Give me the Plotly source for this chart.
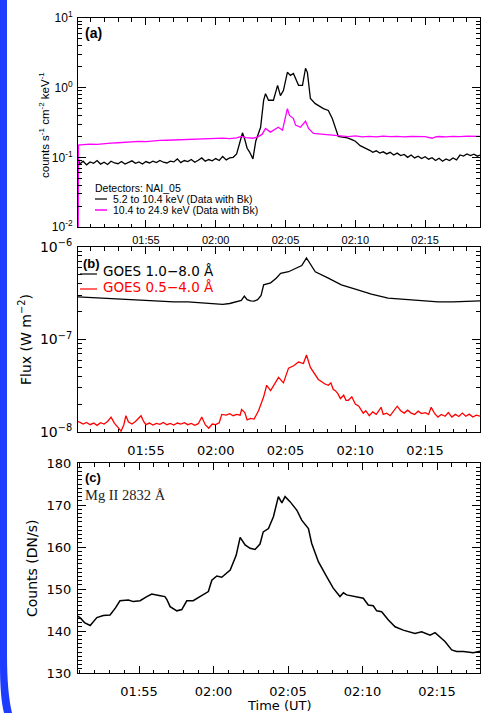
import plotly.graph_objects as go

W, H = 481, 713
DATE = "2000-01-01 "

# ---------------- Panel (a): counts, NAI_05 ----------------
a_lo_time = ["01:50:08", "01:50:15", "01:50:30", "01:50:45", "01:51:00", "01:51:15", "01:51:30", "01:51:45",
             "01:52:00", "01:52:15", "01:52:30", "01:52:45", "01:53:00", "01:53:15", "01:53:30", "01:53:45",
             "01:54:00", "01:54:15", "01:54:30", "01:54:45", "01:55:00", "01:55:15", "01:55:30", "01:55:45",
             "01:56:00", "01:56:15", "01:56:30", "01:56:45", "01:57:00", "01:57:15", "01:57:30", "01:57:45",
             "01:58:00", "01:58:15", "01:58:30", "01:58:45", "01:59:00", "01:59:15", "01:59:30", "01:59:45",
             "02:00:00", "02:00:15", "02:00:30", "02:00:45", "02:01:00", "02:01:15", "02:01:30", "02:01:45",
             "02:01:55", "02:02:05", "02:02:15", "02:02:25", "02:02:40", "02:02:52", "02:03:13", "02:03:26",
             "02:03:34", "02:03:47", "02:04:08", "02:04:26", "02:04:38", "02:04:51", "02:05:08", "02:05:21",
             "02:05:34", "02:05:56", "02:06:13", "02:06:26", "02:06:34", "02:06:47", "02:07:08", "02:07:43",
             "02:08:04", "02:08:21", "02:08:34", "02:08:47", "02:09:05", "02:09:26", "02:09:45", "02:10:00",
             "02:10:21", "02:10:40", "02:11:04", "02:11:15", "02:11:30", "02:11:45", "02:12:00", "02:12:15",
             "02:12:30", "02:12:45", "02:13:00", "02:13:15", "02:13:30", "02:13:45", "02:14:00", "02:14:15",
             "02:14:30", "02:14:45", "02:15:00", "02:15:15", "02:15:30", "02:15:45", "02:16:00", "02:16:15",
             "02:16:30", "02:16:45", "02:17:00", "02:17:15", "02:17:30", "02:17:45", "02:18:00", "02:18:15",
             "02:18:30", "02:18:45", "02:18:56"]
a_lo_vals = [0.100, 0.080, 0.088, 0.078, 0.086, 0.082, 0.090, 0.080,
             0.085, 0.079, 0.088, 0.083, 0.081, 0.087, 0.080, 0.084,
             0.089, 0.082, 0.086, 0.080, 0.087, 0.083, 0.088, 0.084,
             0.090, 0.085, 0.083, 0.088, 0.086, 0.095, 0.084, 0.090,
             0.087, 0.093, 0.085, 0.091, 0.098, 0.088, 0.093, 0.089,
             0.096, 0.090, 0.103, 0.092, 0.098, 0.100, 0.112, 0.170,
             0.225, 0.180, 0.135, 0.120, 0.095, 0.170, 0.270, 0.660,
             0.820, 0.660, 0.660, 1.080, 0.770, 0.910, 1.660, 1.500,
             1.600, 1.080, 1.080, 1.900, 1.660, 0.700, 0.590, 0.500,
             0.470, 0.360, 0.270, 0.200, 0.195, 0.190, 0.180, 0.170,
             0.147, 0.138, 0.125, 0.118, 0.124, 0.115, 0.120, 0.112,
             0.118, 0.108, 0.115, 0.106, 0.110, 0.100, 0.108, 0.098,
             0.104, 0.096, 0.102, 0.094, 0.099, 0.090, 0.097, 0.088,
             0.095, 0.090, 0.098, 0.092, 0.108, 0.104, 0.112, 0.106,
             0.111, 0.104, 0.108]

a_hi_time = ["01:50:08", "01:50:10", "01:50:30", "01:51:00", "01:51:30", "01:52:00", "01:52:30", "01:53:00",
             "01:53:30", "01:54:00", "01:54:30", "01:55:00", "01:55:30", "01:56:00", "01:56:30", "01:57:00",
             "01:57:30", "01:58:00", "01:58:30", "01:59:00", "01:59:30", "02:00:00", "02:00:30", "02:01:00",
             "02:01:30", "02:01:50", "02:02:10", "02:02:40", "02:03:00", "02:03:20", "02:03:34", "02:03:55",
             "02:04:29", "02:04:47", "02:05:08", "02:05:17", "02:05:34", "02:05:43", "02:06:04", "02:06:26",
             "02:06:39", "02:07:00", "02:08:00", "02:09:00", "02:09:30", "02:10:00", "02:10:30", "02:11:00",
             "02:11:30", "02:12:00", "02:12:30", "02:13:00", "02:13:30", "02:14:00", "02:14:30", "02:15:00",
             "02:15:30", "02:15:45", "02:16:00", "02:16:30", "02:17:00", "02:17:30", "02:18:00", "02:18:30",
             "02:18:56"]
a_hi_vals = [0.001, 0.150, 0.152, 0.155, 0.153, 0.158, 0.160, 0.162,
             0.165, 0.166, 0.170, 0.168, 0.173, 0.175, 0.176, 0.178,
             0.180, 0.179, 0.183, 0.185, 0.184, 0.187, 0.189, 0.186,
             0.190, 0.200, 0.192, 0.188, 0.195, 0.215, 0.260, 0.230,
             0.270, 0.245, 0.500, 0.400, 0.360, 0.290, 0.270, 0.330,
             0.260, 0.220, 0.210, 0.200, 0.198, 0.203, 0.197, 0.200,
             0.196, 0.201, 0.198, 0.200, 0.196, 0.199, 0.197, 0.198,
             0.188, 0.197, 0.199, 0.196, 0.200, 0.198, 0.201, 0.199,
             0.200]

# ---------------- Panel (b): GOES ----------------
b_long_time = ["01:50:04", "01:51:00", "01:52:00", "01:53:00", "01:54:00", "01:55:00", "01:56:00", "01:57:00",
               "01:58:00", "01:59:00", "02:00:00", "02:00:30", "02:01:00", "02:01:30", "02:01:50", "02:02:03",
               "02:02:15", "02:02:30", "02:02:45", "02:03:00", "02:03:15", "02:03:26", "02:03:56", "02:04:20",
               "02:04:39", "02:05:13", "02:05:47", "02:06:10", "02:06:30", "02:06:45", "02:07:08", "02:08:04",
               "02:09:00", "02:10:00", "02:11:09", "02:12:21", "02:14:00", "02:15:56", "02:17:00", "02:18:20",
               "02:18:56"]
b_long_vals = [2.90e-7, 2.85e-7, 2.80e-7, 2.72e-7, 2.68e-7, 2.62e-7, 2.60e-7, 2.55e-7,
               2.55e-7, 2.50e-7, 2.42e-7, 2.40e-7, 2.45e-7, 2.55e-7, 2.65e-7, 2.95e-7,
               2.70e-7, 2.62e-7, 2.60e-7, 2.70e-7, 3.00e-7, 3.90e-7, 4.10e-7, 4.60e-7,
               5.20e-7, 5.40e-7, 5.90e-7, 6.30e-7, 7.60e-7, 6.60e-7, 5.40e-7, 4.60e-7,
               3.90e-7, 3.50e-7, 3.10e-7, 2.80e-7, 2.67e-7, 2.55e-7, 2.55e-7, 2.60e-7,
               2.62e-7]

b_short_time = ["01:50:04", "01:50:15", "01:50:30", "01:50:45", "01:51:00", "01:51:15", "01:51:30", "01:51:45",
                "01:52:00", "01:52:15", "01:52:30", "01:52:45", "01:53:00", "01:53:13", "01:53:25", "01:53:34",
                "01:53:45", "01:54:00", "01:54:15", "01:54:39", "01:54:50", "01:55:00", "01:55:15", "01:55:30",
                "01:55:45", "01:56:00", "01:56:15", "01:56:30", "01:56:45", "01:57:00", "01:57:15", "01:57:30",
                "01:57:45", "01:58:00", "01:58:15", "01:58:30", "01:58:45", "01:59:00", "01:59:15", "01:59:30",
                "01:59:45", "02:00:00", "02:00:15", "02:00:26", "02:00:45", "02:01:00", "02:01:15", "02:01:30",
                "02:01:45", "02:01:51", "02:02:05", "02:02:15", "02:02:30", "02:02:45", "02:03:04", "02:03:26",
                "02:03:39", "02:03:56", "02:04:30", "02:04:51", "02:05:13", "02:05:35", "02:05:56", "02:06:17",
                "02:06:30", "02:06:47", "02:07:21", "02:07:35", "02:07:50", "02:08:04", "02:08:15", "02:08:25",
                "02:08:34", "02:08:45", "02:08:56", "02:09:10", "02:09:20", "02:09:30", "02:09:45", "02:10:00",
                "02:10:15", "02:10:34", "02:10:45", "02:11:00", "02:11:15", "02:11:30", "02:11:51", "02:12:00",
                "02:12:15", "02:12:30", "02:12:51", "02:13:00", "02:13:15", "02:13:30", "02:13:45", "02:14:00",
                "02:14:15", "02:14:30", "02:14:45", "02:15:00", "02:15:15", "02:15:26", "02:15:40", "02:15:55",
                "02:16:10", "02:16:26", "02:16:40", "02:16:55", "02:17:10", "02:17:25", "02:17:40", "02:17:55",
                "02:18:10", "02:18:25", "02:18:40", "02:18:56"]
b_short_vals = [1.30e-8, 1.28e-8, 1.22e-8, 1.27e-8, 1.20e-8, 1.25e-8, 1.18e-8, 1.26e-8,
                1.22e-8, 1.30e-8, 1.45e-8, 1.24e-8, 1.12e-8, 1.02e-8, 1.20e-8, 1.50e-8,
                1.28e-8, 1.22e-8, 1.30e-8, 1.50e-8, 1.30e-8, 1.20e-8, 1.25e-8, 1.19e-8,
                1.24e-8, 1.21e-8, 1.27e-8, 1.20e-8, 1.24e-8, 1.19e-8, 1.25e-8, 1.22e-8,
                1.26e-8, 1.20e-8, 1.24e-8, 1.18e-8, 1.23e-8, 1.45e-8, 1.20e-8, 1.10e-8,
                1.22e-8, 1.20e-8, 1.26e-8, 1.55e-8, 1.52e-8, 1.58e-8, 1.50e-8, 1.55e-8,
                1.52e-8, 1.75e-8, 1.62e-8, 1.35e-8, 1.40e-8, 1.38e-8, 1.70e-8, 2.40e-8,
                3.20e-8, 2.80e-8, 3.90e-8, 3.40e-8, 4.90e-8, 5.20e-8, 5.70e-8, 5.50e-8,
                6.80e-8, 5.00e-8, 3.70e-8, 3.50e-8, 3.30e-8, 3.20e-8, 3.40e-8, 2.90e-8,
                2.80e-8, 2.60e-8, 2.30e-8, 2.50e-8, 2.20e-8, 2.20e-8, 2.40e-8, 2.00e-8,
                1.90e-8, 1.60e-8, 1.70e-8, 1.50e-8, 1.65e-8, 1.55e-8, 1.85e-8, 1.55e-8,
                1.60e-8, 1.50e-8, 1.80e-8, 1.90e-8, 1.70e-8, 1.60e-8, 1.72e-8, 1.60e-8,
                1.55e-8, 1.68e-8, 1.58e-8, 1.62e-8, 1.55e-8, 1.85e-8, 1.60e-8, 1.45e-8,
                1.55e-8, 1.48e-8, 1.62e-8, 1.45e-8, 1.55e-8, 1.47e-8, 1.60e-8, 1.48e-8,
                1.56e-8, 1.45e-8, 1.52e-8, 1.48e-8]

# ---------------- Panel (c): Mg II 2832 ----------------
c_time = ["01:50:50", "01:51:02", "01:51:20", "01:51:43", "01:52:10", "01:52:36", "01:53:03", "01:53:25",
          "01:53:43", "01:54:17", "01:54:37", "01:55:04", "01:55:31", "01:55:51", "01:56:25", "01:56:44",
          "01:56:52", "01:57:05", "01:57:32", "01:57:52", "01:58:12", "01:58:38", "01:59:05", "01:59:39",
          "01:59:53", "02:00:13", "02:00:33", "02:01:07", "02:01:31", "02:01:47", "02:02:07", "02:02:27",
          "02:02:47", "02:03:07", "02:03:20", "02:03:41", "02:04:01", "02:04:21", "02:04:35", "02:04:48",
          "02:05:08", "02:05:35", "02:05:55", "02:06:22", "02:06:35", "02:07:02", "02:07:36", "02:08:02",
          "02:08:29", "02:08:43", "02:08:56", "02:09:37", "02:10:03", "02:10:23", "02:10:43", "02:10:57",
          "02:11:17", "02:11:44", "02:12:11", "02:12:44", "02:13:11", "02:13:31", "02:13:58", "02:14:32",
          "02:14:52", "02:15:12", "02:15:32", "02:15:59", "02:16:19", "02:16:46", "02:17:26", "02:17:53"]
c_vals = [143.6, 143.2, 142.0, 141.3, 143.2, 143.7, 143.8, 145.5,
          147.2, 147.4, 147.0, 147.2, 148.2, 148.8, 148.4, 148.2,
          147.5, 145.8, 144.8, 145.1, 147.2, 147.2, 148.2, 149.4,
          152.1, 153.1, 152.8, 154.5, 158.0, 162.3, 160.5, 159.7,
          159.4, 160.7, 163.6, 164.4, 167.2, 172.0, 170.5, 172.0,
          170.8, 168.8, 166.4, 164.4, 160.9, 156.5, 152.9, 150.2,
          148.2, 149.1, 148.6, 148.2, 147.8, 146.2, 146.0, 144.8,
          144.6, 142.6, 141.0, 140.2, 139.8, 139.4, 139.8, 139.0,
          139.6, 138.6, 137.5, 135.5, 135.1, 135.1, 134.8, 135.2]

x_range_ab = ["01:50:08", "02:18:56"]
x_range_c = ["01:50:54", "02:17:53"]
y_range_a = [-2, 1]
y_range_b = [-8, -6]
y_range_c = [130, 180]
a_decades = [-2, -1, 0, 1]
b_decades = [-8, -7, -6]


def ts(lst):
    return [DATE + s for s in lst]


def px(x):
    return x / W


def py(y):
    return 1 - y / H


def pow_label(e, minus):
    return "10<sup>%s</sup>" % (str(e).replace("-", minus))


SANS = "Liberation Sans, Arial, sans-serif"
IDL = "DejaVu Sans, sans-serif"

fig = go.Figure()
fig.add_trace(go.Scatter(x=ts(a_lo_time), y=a_lo_vals, mode="lines", line=dict(color="black", width=1.3),
                         xaxis="x", yaxis="y", showlegend=False))
fig.add_trace(go.Scatter(x=ts(a_hi_time), y=a_hi_vals, mode="lines", line=dict(color="#ff00ff", width=1.3),
                         xaxis="x", yaxis="y", showlegend=False))
fig.add_trace(go.Scatter(x=ts(b_long_time), y=b_long_vals, mode="lines", line=dict(color="black", width=1.3),
                         xaxis="x2", yaxis="y2", showlegend=False))
fig.add_trace(go.Scatter(x=ts(b_short_time), y=b_short_vals, mode="lines", line=dict(color="#ff0000", width=1.3),
                         xaxis="x2", yaxis="y2", showlegend=False))
fig.add_trace(go.Scatter(x=ts(c_time), y=c_vals, mode="lines", line=dict(color="black", width=1.5),
                         xaxis="x3", yaxis="y3", showlegend=False))

xdom = [px(78), px(480)]
dom_a = [py(227), py(18)]
dom_b = [py(432), py(247)]
dom_c = [py(673), py(463)]


def xaxis(anchor, dom_rng, font, size, standoff):
    return dict(domain=xdom, anchor=anchor, type="date", range=ts(dom_rng), automargin=False,
                tick0=DATE + "01:50:00", dtick=300000, tickformat="%H:%M",
                ticks="inside", ticklen=7, tickwidth=1, tickcolor="black",
                minor=dict(dtick=60000, ticks="inside", ticklen=3.5, tickwidth=1, tickcolor="black", showgrid=False),
                showline=True, linecolor="black", linewidth=1, mirror="ticks",
                showgrid=False, zeroline=False,
                tickfont=dict(family=font, size=size, color="black"), ticklabelstandoff=standoff)


def ylog(anchor, dom, rng, decades, font, size, minus):
    minor_vals = [k * 10.0 ** e for e in decades[:-1] for k in range(2, 10)]
    return dict(domain=dom, anchor=anchor, type="log", range=rng, automargin=False,
                tickmode="array", tickvals=[10.0 ** e for e in decades],
                ticktext=[pow_label(e, minus) for e in decades],
                ticks="inside", ticklen=8, tickwidth=1, tickcolor="black",
                minor=dict(tickmode="array", tickvals=minor_vals, ticks="inside", ticklen=4, tickwidth=1,
                           tickcolor="black", showgrid=False),
                showline=True, linecolor="black", linewidth=1, mirror="ticks",
                showgrid=False, zeroline=False, ticklabelstandoff=2,
                tickfont=dict(family=font, size=size, color="black"))


fig.update_layout(
    width=W, height=H, margin=dict(l=0, r=0, t=0, b=0, autoexpand=False),
    paper_bgcolor="white", plot_bgcolor="white",
    font=dict(family=SANS, color="black"),
    xaxis=xaxis("y", x_range_ab, SANS, 11, 3),
    yaxis=ylog("x", dom_a, y_range_a, a_decades, SANS, 12, "-"),
    xaxis2=xaxis("y2", x_range_ab, IDL, 13, 6),
    yaxis2=ylog("x2", dom_b, y_range_b, b_decades, IDL, 14, "\u2212"),
    xaxis3=xaxis("y3", x_range_c, IDL, 13, 6),
    yaxis3=dict(domain=dom_c, anchor="x3", range=y_range_c, dtick=10, automargin=False,
                ticks="inside", ticklen=8, tickwidth=1, tickcolor="black",
                minor=dict(dtick=1, ticks="inside", ticklen=4, tickwidth=1, tickcolor="black", showgrid=False),
                showline=True, linecolor="black", linewidth=1, mirror="ticks",
                showgrid=False, zeroline=False, ticklabelstandoff=3,
                tickfont=dict(family=IDL, size=13, color="black")),
)

ann = []


def text(x, y, s, size, family, color="black", xanchor="left", angle=0):
    ann.append(dict(x=px(x), y=py(y), xref="paper", yref="paper", text=s, showarrow=False,
                    xanchor=xanchor, yanchor="middle", textangle=angle, borderpad=0,
                    font=dict(family=family, size=size, color=color)))


# panel (a) labels
text(84, 33, "<b>(a)</b>", 14, SANS)
text(44, 125, "counts s<sup>-1</sup> cm<sup>-2</sup> keV<sup>-1</sup>", 11.5, SANS, xanchor="center", angle=-90)
text(94, 188, "Detectors: NAI_05", 10.5, SANS)
text(112, 199, "5.2 to 10.4 keV (Data with Bk)", 10.5, SANS)
text(112, 210, "10.4 to 24.9 keV (Data with Bk)", 10.5, SANS)
# panel (b) labels
text(82, 263, "<b>(b)</b>", 13, SANS)
text(102, 271, "GOES 1.0\u22128.0 \u00c5", 13.5, IDL)
text(102, 287, "GOES 0.5\u22124.0 \u00c5", 13.5, IDL, color="#ff0000")
text(25, 340, "Flux (W m<sup>\u22122</sup>)", 14, IDL, xanchor="center", angle=-90)
# panel (c) labels
text(84, 477, "<b>(c)</b>", 13, SANS)
text(84, 495, "Mg II 2832 \u00c5", 14.5, "Liberation Serif, Times New Roman, serif", color="#222222")
text(32, 568, "Counts (DN/s)", 14, IDL, xanchor="center", angle=-90)
text(279, 705, "Time (UT)", 13, IDL, xanchor="center")

fig.update_layout(annotations=ann)

shapes = [
    dict(type="line", xref="paper", yref="paper", x0=px(95), x1=px(107), y0=py(199), y1=py(199),
         line=dict(color="black", width=1.2)),
    dict(type="line", xref="paper", yref="paper", x0=px(95), x1=px(107), y0=py(210), y1=py(210),
         line=dict(color="#ff00ff", width=1.5)),
    dict(type="line", xref="paper", yref="paper", x0=px(80), x1=px(97), y0=py(274), y1=py(274),
         line=dict(color="black", width=1.2)),
    dict(type="line", xref="paper", yref="paper", x0=px(80), x1=px(97), y0=py(289), y1=py(289),
         line=dict(color="#ff0000", width=1.2)),
]
# blue left border stripe
pts = "M {0},{1} L {2},{1} L {2},{3} Q {2},{4} {5},{6} L {7},{6} Q {8},{9} {8},{10} Z".format(
    px(0), py(0), px(7), py(655), py(692), px(12), py(713), px(4), px(0), py(698), py(665))
shapes.append(dict(type="path", xref="paper", yref="paper", path=pts,
                   fillcolor="#1e3cff", line=dict(width=0), layer="above"))
fig.update_layout(shapes=shapes)

fig.write_html("out.html")
